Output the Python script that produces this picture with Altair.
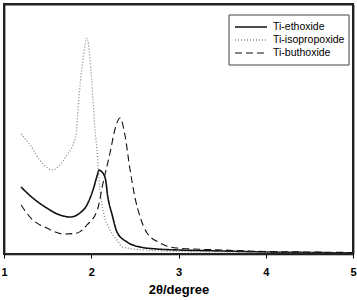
import altair as alt
import pandas as pd

# Small-angle XRD patterns (2θ in degrees, intensity in arbitrary units)
ethoxide_x = [1.195, 1.33, 1.49, 1.64, 1.76, 1.87, 1.95, 2.02, 2.07, 2.09, 2.11, 2.16, 2.19,
              2.24, 2.295, 2.41, 2.56, 2.75, 3.0, 3.5, 4.0, 4.5, 5.0]
ethoxide_y = [67, 56, 46, 39, 37, 41, 49, 64, 79, 84, 83, 76, 57,
              39, 22, 12, 7, 5, 4, 3, 2, 1.5, 1]

isoprop_x = [1.195, 1.30, 1.41, 1.56, 1.64, 1.72, 1.78, 1.83, 1.85, 1.905, 1.95, 2.02, 2.04,
             2.066, 2.10, 2.135, 2.215, 2.295, 2.36, 2.6, 3.0, 4.0, 5.0]
isoprop_y = [120, 109, 94, 84, 89, 99, 107, 122, 147, 194, 216, 154, 127,
             104, 64, 44, 24, 14, 7, 4, 2.5, 1.5, 1]

buth_x = [1.195, 1.33, 1.49, 1.68, 1.84, 1.95, 2.07, 2.135, 2.215, 2.27, 2.33, 2.39, 2.44,
          2.50, 2.56, 2.64, 2.79, 2.98, 3.5, 4.0, 4.5, 5.0]
buth_y = [49, 34, 26, 20, 21, 29, 44, 71, 101, 124, 136, 117, 87,
          57, 37, 21, 11, 6, 4, 2.5, 2, 1.5]

series = ["Ti-ethoxide", "Ti-isopropoxide", "Ti-buthoxide"]

frames = []
for name, xs, ys in [(series[0], ethoxide_x, ethoxide_y),
                     (series[1], isoprop_x, isoprop_y),
                     (series[2], buth_x, buth_y)]:
    frames.append(pd.DataFrame({"two_theta": xs, "intensity": ys, "sample": name}))
df = pd.concat(frames, ignore_index=True)

# shared style scales for the curves and the legend entries
color_scale = alt.Scale(domain=series, range=["#111111", "#888888", "#111111"])
dash_scale = alt.Scale(domain=series, range=[[1, 0], [1, 2], [7, 4]])
width_scale = alt.Scale(domain=series, range=[1.6, 1.1, 1.6])

x_scale = alt.Scale(domain=[1, 5], nice=False, zero=False)
y_scale = alt.Scale(domain=[0, 250], nice=False)

# bare axis lines that close the plot frame
edge_axis = dict(labels=False, ticks=False, grid=False, title=None,
                 domainColor="#222222", domainWidth=1.8)

lines = alt.Chart(df).mark_line(interpolate="monotone").encode(
    x=alt.X("two_theta:Q", scale=x_scale,
            axis=alt.Axis(title="2θ/degree", values=[1, 2, 3, 4, 5], format="d",
                          grid=False, tickSize=4, tickColor="black", domainColor="black",
                          domainWidth=1.5, labelFontWeight="bold", labelFontSize=11,
                          labelColor="black", labelPadding=8, titleFontSize=13,
                          titleFontWeight="bold", titleColor="black", titlePadding=6,
                          labelFlush=False)),
    y=alt.Y("intensity:Q", scale=y_scale, axis=alt.Axis(orient="left", **edge_axis)),
    color=alt.Color("sample:N", scale=color_scale, legend=None),
    strokeDash=alt.StrokeDash("sample:N", scale=dash_scale, legend=None),
    strokeWidth=alt.StrokeWidth("sample:N", scale=width_scale, legend=None),
)

# outline of the full data range, plus top/right axis lines
box_df = pd.DataFrame({"x0": [1], "x1": [5], "y0": [0], "y1": [250]})
frame = alt.Chart(box_df).mark_rect(
    fill="white", fillOpacity=0, stroke="#222222", strokeWidth=1.8
).encode(
    x=alt.X("x0:Q", scale=x_scale, axis=alt.Axis(orient="top", **edge_axis)),
    x2="x1:Q",
    y=alt.Y("y0:Q", scale=y_scale, axis=alt.Axis(orient="right", **edge_axis)),
    y2="y1:Q",
)

# legend drawn as a boxed key in the upper right of the plot
legend_df = pd.DataFrame({"sample": series, "row": [0, 1, 2]})
row_y = alt.Y("row:Q", scale=alt.Scale(domain=[0, 2], range=[23, 49]), axis=None)

legend_box = alt.Chart(pd.DataFrame({"box": [0]})).mark_rect(
    fill="white", stroke="#444444", strokeWidth=1
).encode(x=alt.value(225), x2=alt.value(345), y=alt.value(11), y2=alt.value(61))

legend_keys = alt.Chart(legend_df).mark_rule().encode(
    x=alt.value(231), x2=alt.value(263), y=row_y,
    color=alt.Color("sample:N", scale=color_scale, legend=None),
    strokeDash=alt.StrokeDash("sample:N", scale=dash_scale, legend=None),
    strokeWidth=alt.StrokeWidth("sample:N", scale=width_scale, legend=None),
)

legend_text = alt.Chart(legend_df).mark_text(
    align="left", baseline="middle", fontSize=10.5, color="black", font="Liberation Sans"
).encode(x=alt.value(269), y=row_y, text="sample:N")

chart = alt.layer(lines, frame, legend_box, legend_keys, legend_text).resolve_scale(
    x="independent", y="independent"
).resolve_axis(
    x="independent", y="independent"
).properties(
    width=349, height=250,
    padding={"left": 4, "top": 4, "right": 4, "bottom": 46},
    autosize=alt.AutoSizeParams(type="none"),
).configure(
    font="Liberation Sans"
).configure_view(
    stroke="#222222", strokeWidth=1.8
)

chart.save("out.html", embed_options={"renderer": "svg", "actions": False})
